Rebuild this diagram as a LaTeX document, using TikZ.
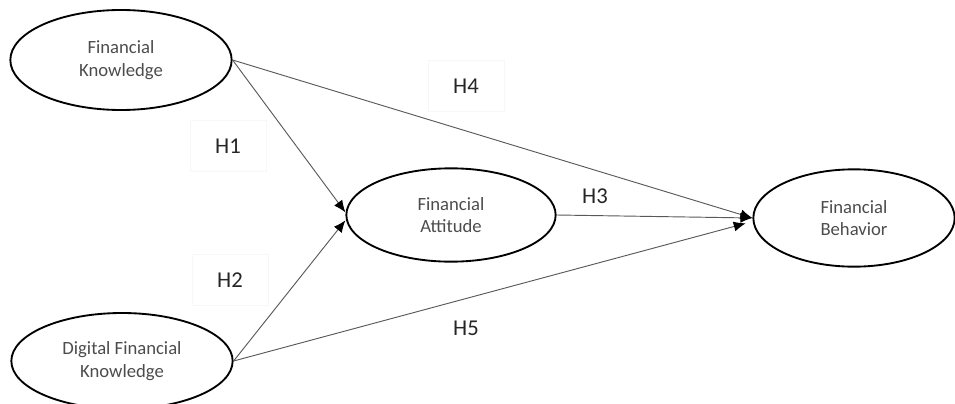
\documentclass[tikz,border=0pt]{standalone}
\usepackage{fontspec}
\setmainfont{Carlito}
\usetikzlibrary{shapes.geometric,arrows.meta}

\begin{document}
\begin{tikzpicture}[->,>={Latex[length=9pt,width=7.5pt,color=black]},x=0.75pt,y=-0.75pt,
	construct/.style={ellipse,draw,black,line width=1.4pt,inner sep=0pt,align=center,
		font=\fontsize{14}{17}\selectfont,text=black!70},
	hyp/.style={draw=black!3,line width=0.4pt,font=\fontsize{17}{20}\selectfont,text=black!85,
		minimum width=57pt,minimum height=38pt}]
	\useasboundingbox (0,0) rectangle (955,403);
	\draw[-]
		(121,60)  node(fk)  [construct, minimum width=166pt, minimum height=75pt] {Financial\\Knowledge}
		(451,215) node(fa)  [construct, minimum width=157pt, minimum height=70pt] {Financial\\Attitude}
		(854,218) node(fb)  [construct, minimum width=151pt, minimum height=73pt] {Financial\\Behavior}
		(122,361) node(dfk) [construct, minimum width=166pt, minimum height=72pt] {Digital Financial\\Knowledge};
	\draw[-]
		(228,146) node(h1) [hyp] {H1}
		(230,280) node(h2) [hyp] {H2}
		(595,196) node(h3) [hyp,draw=none] {H3}
		(466,86)  node(h4) [hyp] {H4}
		(466,328) node(h5) [hyp,draw=none] {H5};
	\begin{scope}[black!65,line width=0.7pt]
	\draw [->](fk.east) to ([yshift=2pt]fa.west);
	\draw [->](dfk.east) to ([yshift=-4pt]fa.west);
	\draw [->](fk.east) to (fb.west);
	\draw [->](fa.east) to (fb.west);
	\draw [->](dfk.east) to ([xshift=-5pt,yshift=-4pt]fb.west);
	\end{scope}
\end{tikzpicture}
\end{document}
